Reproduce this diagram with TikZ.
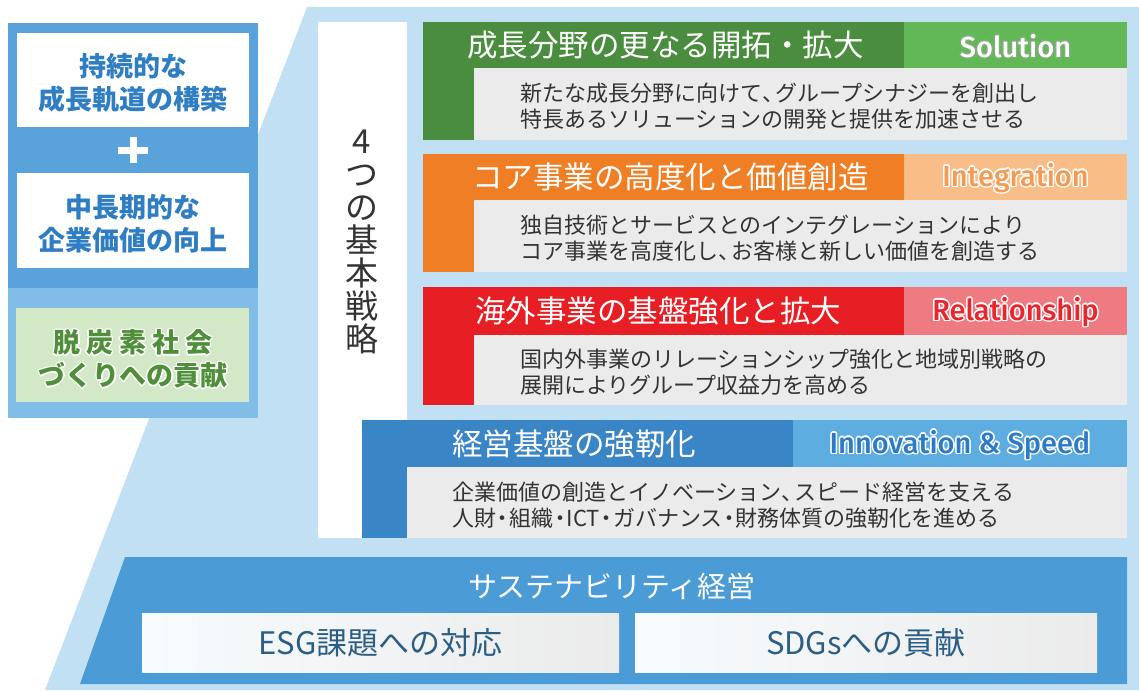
\documentclass[tikz,border=0pt]{standalone}
\usepackage{fontspec}
\setmainfont{Noto Sans CJK JP}
\newfontfamily\labelfont{Fira Sans Medium}
\usepackage{xcolor}
\definecolor{bgblue}{HTML}{C2E0F4}
\definecolor{panelA}{HTML}{5AA3DA}
\definecolor{panelB}{HTML}{82BDE8}
\definecolor{panelTxt}{HTML}{2F7DC3}
\definecolor{ecoBox}{HTML}{D3E8C7}
\definecolor{ecoTxt}{HTML}{4F8F3A}
\definecolor{gA}{HTML}{4B8D3F}
\definecolor{gB}{HTML}{62B857}
\definecolor{oA}{HTML}{EF7E25}
\definecolor{oB}{HTML}{F9BD87}
\definecolor{oT}{HTML}{F29B55}
\definecolor{rA}{HTML}{E71F25}
\definecolor{rB}{HTML}{EE7B82}
\definecolor{rT}{HTML}{E8262D}
\definecolor{bA}{HTML}{3A85C6}
\definecolor{bB}{HTML}{5EADE0}
\definecolor{bT}{HTML}{2D7BC4}
\definecolor{grayBox}{HTML}{EBEBEB}
\definecolor{band}{HTML}{4B9CD6}
\definecolor{bodyTxt}{HTML}{333333}
\definecolor{baseTxt}{HTML}{2B5E86}
\newcommand\haloshift[4]{\rlap{\hspace*{#1}\raisebox{#2}{\textcolor{#3}{#4}}}}
\newcommand\halotext[3]{% #1 halo colour, #2 text colour, #3 text
\haloshift{-1.5pt}{0pt}{#1}{#3}\haloshift{1.5pt}{0pt}{#1}{#3}%
\haloshift{0pt}{1.5pt}{#1}{#3}\haloshift{0pt}{-1.5pt}{#1}{#3}%
\haloshift{-1.1pt}{-1.1pt}{#1}{#3}\haloshift{1.1pt}{1.1pt}{#1}{#3}%
\haloshift{-1.1pt}{1.1pt}{#1}{#3}\haloshift{1.1pt}{-1.1pt}{#1}{#3}%
\textcolor{#2}{#3}}
\newcommand\tc{\makebox[0.6em][l]{、}}
\newcommand\nk{\makebox[0.6em][c]{・}}
\begin{document}
\begin{tikzpicture}[x=1pt,y=-1pt,
  blk/.style={draw=none, inner sep=0pt, outer sep=0pt, anchor=north west},
  headtxt/.style={anchor=west, inner sep=0pt, text=white, font=\fontsize{30.5}{36}\selectfont},
  bodytxt/.style={anchor=west, inner sep=0pt, text=bodyTxt, align=left, font=\fontsize{22}{26}\selectfont},
  labeltxt/.style={inner sep=0pt, font=\labelfont\fontsize{29}{32}\selectfont},
  paneltxt/.style={inner sep=0pt, align=center, text=panelTxt, font=\bfseries\fontsize{27}{33}\selectfont},
  basetxt/.style={inner sep=0pt, text=baseTxt, font=\fontsize{31}{36}\selectfont},
]
\useasboundingbox (0,0) rectangle (1139,690);
% light blue background
\fill[bgblue] (307,7) -- (1139,7) -- (1139,690) -- (45,690) -- cycle;

% left panel
\node[blk, fill=panelA, minimum width=250pt, minimum height=265pt] (lpA) at (8,23) {};
\node[blk, fill=panelB, minimum width=250pt, minimum height=130pt] (lpB) at (8,288) {};
\node[blk, fill=white, minimum width=232pt, minimum height=94pt] (wb1) at (17,33) {};
\node[blk, fill=white, minimum width=232pt, minimum height=95pt] (wb2) at (17,173) {};
\node[blk, fill=ecoBox, minimum width=233pt, minimum height=94pt] (eco) at (16,308) {};
\node[paneltxt] (wb1t) at (133,83) {持続的な\\成長軌道の構築};
\node[paneltxt] (wb2t) at (133,224) {中長期的な\\企業価値の向上};
\node[paneltxt] (ecot) at (133,359) {\halotext{white}{ecoTxt}{脱\hspace{6pt}炭\hspace{6pt}素\hspace{6pt}社\hspace{6pt}会}\\\halotext{white}{ecoTxt}{づくりへの貢献}};
\draw[white, line width=7pt] (118,150) -- (148,150);
\draw[white, line width=7pt] (133,137) -- (133,163);

% white vertical strip with title
\node[blk, fill=white, minimum width=89pt, minimum height=516pt] (strip) at (318,22) {};
\node[inner sep=0pt, align=center, text=bodyTxt, font=\fontsize{33}{33}\selectfont] (title) at (362,242) {4\\つ\\の\\基\\本\\戦\\略};

% row 1
\node[blk, fill=gA, minimum width=481pt, minimum height=46pt] (h1a) at (423,22) {};
\node[blk, fill=gB, minimum width=223pt, minimum height=46pt] (h1b) at (904,22) {};
\node[blk, fill=gA, minimum width=51pt, minimum height=72pt] (s1) at (423,68) {};
\node[blk, fill=grayBox, minimum width=653pt, minimum height=72pt] (b1) at (474,68) {};
\node[headtxt] (h1t) at (467,45) {成長分野の更なる開拓・拡大};
\node[labeltxt] (l1) at (1015.5,46) {\halotext{gA!70!white}{white}{Solution}};
\node[bodytxt] (b1t) at (520,106) {新たな成長分野に向けて\tc グループシナジーを創出し\\特長あるソリューションの開発と提供を加速させる};

% row 2
\node[blk, fill=oA, minimum width=481pt, minimum height=46pt] (h2a) at (423,154) {};
\node[blk, fill=oB, minimum width=223pt, minimum height=46pt] (h2b) at (904,154) {};
\node[blk, fill=oA, minimum width=51pt, minimum height=72pt] (s2) at (423,200) {};
\node[blk, fill=grayBox, minimum width=653pt, minimum height=72pt] (b2) at (474,200) {};
\node[headtxt] (h2t) at (472,177) {コア事業の高度化と価値創造};
\node[labeltxt] (l2) at (1015.5,178) {\halotext{white}{oT}{Integration}};
\node[bodytxt] (b2t) at (520,238) {独自技術とサービスとのインテグレーションにより\\コア事業を高度化し\tc お客様と新しい価値を創造する};

% row 3
\node[blk, fill=rA, minimum width=481pt, minimum height=48pt] (h3a) at (423,287) {};
\node[blk, fill=rB, minimum width=223pt, minimum height=48pt] (h3b) at (904,287) {};
\node[blk, fill=rA, minimum width=51pt, minimum height=70pt] (s3) at (423,335) {};
\node[blk, fill=grayBox, minimum width=653pt, minimum height=70pt] (b3) at (474,335) {};
\node[headtxt] (h3t) at (475,311) {海外事業の基盤強化と拡大};
\node[labeltxt] (l3) at (1015.5,312) {\halotext{white}{rT}{Relationship}};
\node[bodytxt] (b3t) at (520,372) {国内外事業のリレーションシップ強化と地域別戦略の\\展開によりグループ収益力を高める};

% row 4
\node[blk, fill=bA, minimum width=431pt, minimum height=47pt] (h4a) at (362,420) {};
\node[blk, fill=bB, minimum width=334pt, minimum height=47pt] (h4b) at (793,420) {};
\node[blk, fill=bA, minimum width=45pt, minimum height=71pt] (s4) at (362,467) {};
\node[blk, fill=grayBox, minimum width=720pt, minimum height=71pt] (b4) at (407,467) {};
\node[headtxt] (h4t) at (452,444) {経営基盤の強靭化};
\node[labeltxt] (l4) at (960,445) {\halotext{white}{bT}{Innovation \& Speed}};
\node[bodytxt] (b4t) at (452,505) {企業価値の創造とイノベーション\tc スピード経営を支える\\人財\nk 組織\nk ICT\nk ガバナンス\nk 財務体質の強靭化を進める};

% bottom band
\fill[band] (125,557) -- (1127,557) -- (1127,684) -- (80,684) -- cycle;
\node[inner sep=0pt, text=white, font=\fontsize{29}{34}\selectfont] (sus) at (612,586) {サステナビリティ経営};
\node[blk, left color=white!70!bgblue!40!white, right color=grayBox, minimum width=477pt, minimum height=59pt] (esg) at (142,613) {};
\node[blk, left color=white!70!bgblue!40!white, right color=grayBox, minimum width=462pt, minimum height=59pt] (sdg) at (635,613) {};
\node[basetxt] (esgt) at (esg.center) {ESG課題への対応};
\node[basetxt] (sdgt) at (sdg.center) {SDGsへの貢献};
\end{tikzpicture}
\end{document}
